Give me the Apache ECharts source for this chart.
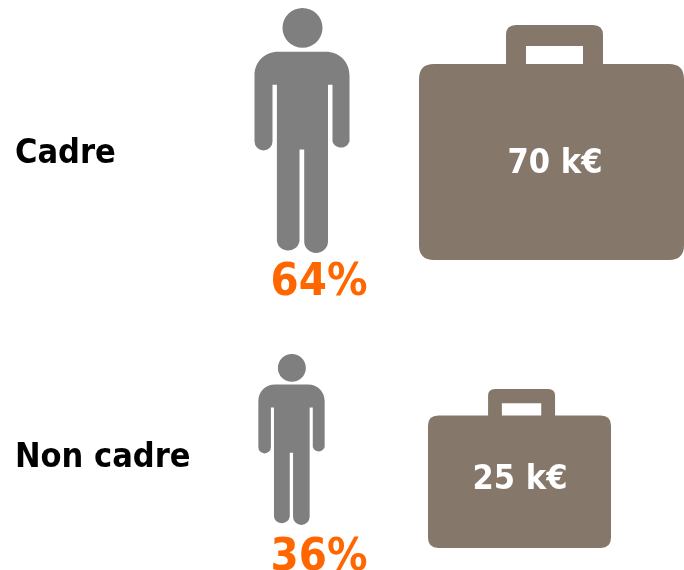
<!DOCTYPE html>
<html>
<head>
<meta charset="utf-8">
<style>html,body{margin:0;padding:0;background:#fff}#c{width:684px;height:570px}</style>
<script src="https://cdn.jsdelivr.net/npm/echarts@6/dist/echarts.min.js"></script>
</head>
<body>
<div id="c"></div>
<script>
var categories = ['Cadre', 'Non cadre'];
var columns = ['Effectif', 'Salaire'];
var sharePct = [64, 36];
var salaryK = [70, 25];

var personPath = 'path://M48 0A20 20 0 1 1 48 40A20 20 0 1 1 48 0Z' +
  'M24 44H71C85 44 95 54 95 68V134A9 9 0 0 1 78 134V77H73.5V234A11.5 11.5 0 0 1 49.7 234V142H45V234A11.5 11.5 0 0 1 22.4 234V77H18V134A9 9 0 0 1 0 134V68C0 54 10 44 24 44Z';
var casePath = 'path://M15 39H87V10Q87 0 97 0H174Q184 0 184 10V39H250Q265 39 265 54V220Q265 235 250 235H15Q0 235 0 220V54Q0 39 15 39Z' +
  'M107 39H164V21H107Z';

var personOffsets = [[2, -23.5], [-8.5, -18.5]];
var caseOffsets = [[1.5, -11.5], [-30.5, 10.5]];
var personLabelOffsets = [[17, 152.5], [27.5, 118.5]];
var caseLabelOffsets = [[3.5, 21.5], [0.5, 11.5]];
var textFont = '"DejaVu Sans Condensed", "DejaVu Sans"';

function personSize(v) {
  var h = echarts.number.linearMap(v, [36, 64], [171, 245]);
  return [h * 95 / 245, h];
}
function caseSize(v) {
  var w = echarts.number.linearMap(v, [25, 70], [183, 265]);
  var h = echarts.number.linearMap(v, [25, 70], [159, 235]);
  return [w, h];
}

var chart = echarts.init(document.getElementById('c'), null, {renderer: 'canvas'});
chart.setOption({
  animation: false,
  backgroundColor: '#ffffff',
  grid: {left: 175, width: 500, top: 2, height: 608, containLabel: false, outerBoundsMode: 'none'},
  xAxis: {
    type: 'category', data: columns,
    axisLine: {show: false}, axisTick: {show: false}, axisLabel: {show: false}, splitLine: {show: false}
  },
  yAxis: {
    type: 'category', data: categories, inverse: true,
    axisLine: {show: false}, axisTick: {show: false}, splitLine: {show: false},
    axisLabel: {
      show: true, margin: 160, align: 'left', color: '#000000',
      fontFamily: textFont, fontWeight: 'bold', fontSize: 34
    }
  },
  series: [
    {
      type: 'scatter', name: columns[0], clip: false, silent: true,
      symbol: personPath,
      itemStyle: {color: '#7f7f7f', opacity: 1},
      data: sharePct.map(function (v, i) {
        return {
          value: [columns[0], categories[i], v],
          symbolSize: personSize(v),
          symbolOffset: personOffsets[i],
          label: {
            show: true, position: 'inside', offset: personLabelOffsets[i],
            formatter: v + '%', color: '#ff6600',
            fontFamily: textFont, fontWeight: 'bold', fontSize: 45
          }
        };
      })
    },
    {
      type: 'scatter', name: columns[1], clip: false, silent: true,
      symbol: casePath,
      itemStyle: {color: '#85776a', opacity: 1},
      data: salaryK.map(function (v, i) {
        return {
          value: [columns[1], categories[i], v],
          symbolSize: caseSize(v),
          symbolOffset: caseOffsets[i],
          label: {
            show: true, position: 'inside', offset: caseLabelOffsets[i],
            formatter: v + ' k€', color: '#ffffff',
            fontFamily: textFont, fontWeight: 'bold', fontSize: 34
          }
        };
      })
    }
  ]
});
</script>
</body>
</html>
